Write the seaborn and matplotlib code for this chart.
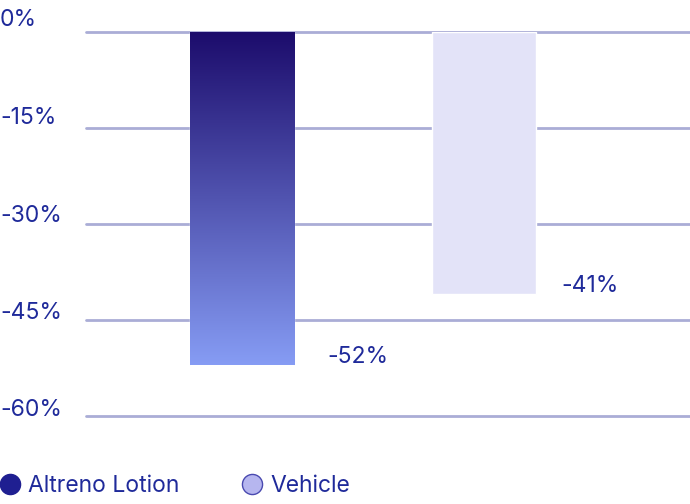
import numpy as np
import pandas as pd
import matplotlib
matplotlib.use("Agg")
import matplotlib.pyplot as plt
import matplotlib.transforms as mtransforms
from matplotlib.colors import LinearSegmentedColormap
from matplotlib.lines import Line2D
import seaborn as sns

# ---- data ----
groups = ["Altreno Lotion", "Vehicle"]
values = [-52, -41]
value_labels = ["-52%", "-41%"]
tick_values = [0, -15, -30, -45, -60]
tick_labels = ["0%", "-15%", "-30%", "-45%", "-60%"]

TEXT = "#1f2a9a"
GRID = "#aaadd6"
VEH = "#e3e3f8"
TOP = "#1c0c6c"
BOT = "#869cf4"
FS = 16.5

sns.set_theme(style="white")
plt.rcParams["font.family"] = ["Inter", "DejaVu Sans"]

fig = plt.figure(figsize=(6.9, 5.04), dpi=100)
W, H = 690, 504
# axes: x 86..690, y: 0 at px 32, -60 at px 415.7
ax = fig.add_axes([86 / W, 1 - 415.7 / H, (690 - 86) / W, (415.7 - 32) / H])

df = pd.DataFrame({"group": groups, "value": values})
sns.barplot(data=df, x="group", y="value", hue="group", palette=[BOT, VEH],
            width=0.43, ax=ax, legend=False, saturation=1, zorder=3)

ax.set_xlim(-0.645, 1.851)
ax.set_ylim(-60, 0)
ax.set_yticks(tick_values)
ax.set_yticklabels(tick_labels)
ax.set_xticks([])
ax.set_xlabel("")
ax.set_ylabel("")
for s in ax.spines.values():
    s.set_visible(False)
ax.grid(False)
for tv in tick_values:
    ax.axhline(tv, color=GRID, lw=2, zorder=1, clip_on=False)

# gradient fill on first bar
cmap = LinearSegmentedColormap.from_list("g", [BOT, TOP])
p0 = ax.patches[0]
x0, y0 = p0.get_x(), p0.get_y()
w, h = p0.get_width(), p0.get_height()
grad = np.linspace(0, 1, 256).reshape(-1, 1)
lo, hi = min(y0, y0 + h), max(y0, y0 + h)
im = ax.imshow(grad, extent=[x0, x0 + w, lo, hi], origin="lower", cmap=cmap,
               aspect="auto", zorder=4)
im.set_clip_path(p0)
ax.set_xlim(-0.645, 1.851)
ax.set_ylim(-60, 0)

# y tick labels: left aligned at figure edge, raised above the lines
ax.tick_params(axis="y", length=0, pad=0, labelsize=FS, labelcolor=TEXT)
raise_px = [14, 12, 10, 9, 8]
for lab, dy in zip(ax.get_yticklabels(), raise_px):
    lab.set_horizontalalignment("left")
    lab.set_transform(lab.get_transform() + mtransforms.ScaledTranslation(
        -86 / 100, dy / 100, fig.dpi_scale_trans))

# value labels
for p, lab, dx in zip(ax.patches[:2], value_labels, [33, 25]):
    ax.annotate(lab, xy=(p.get_x() + p.get_width(), p.get_y() + p.get_height()),
                xytext=(dx, 8), textcoords="offset pixels", ha="left", va="center",
                fontsize=FS, color=TEXT)

# legend
handles = [Line2D([], [], marker="o", ls="", ms=14.5, mfc="#1f1f91", mec="#1f1f91"),
           Line2D([], [], marker="o", ls="", ms=14.5, mfc="#b6b6ef", mec="#4a4ab0", mew=1)]
fig.legend(handles, groups, loc="center left", bbox_to_anchor=(-1.5 / W, 1 - 486.5 / H),
           ncol=2, frameon=False, fontsize=FS, labelcolor=TEXT, handletextpad=0.28,
           columnspacing=2.68, handlelength=1.0, borderpad=0, borderaxespad=0)

fig.savefig("out.png", dpi=100)
